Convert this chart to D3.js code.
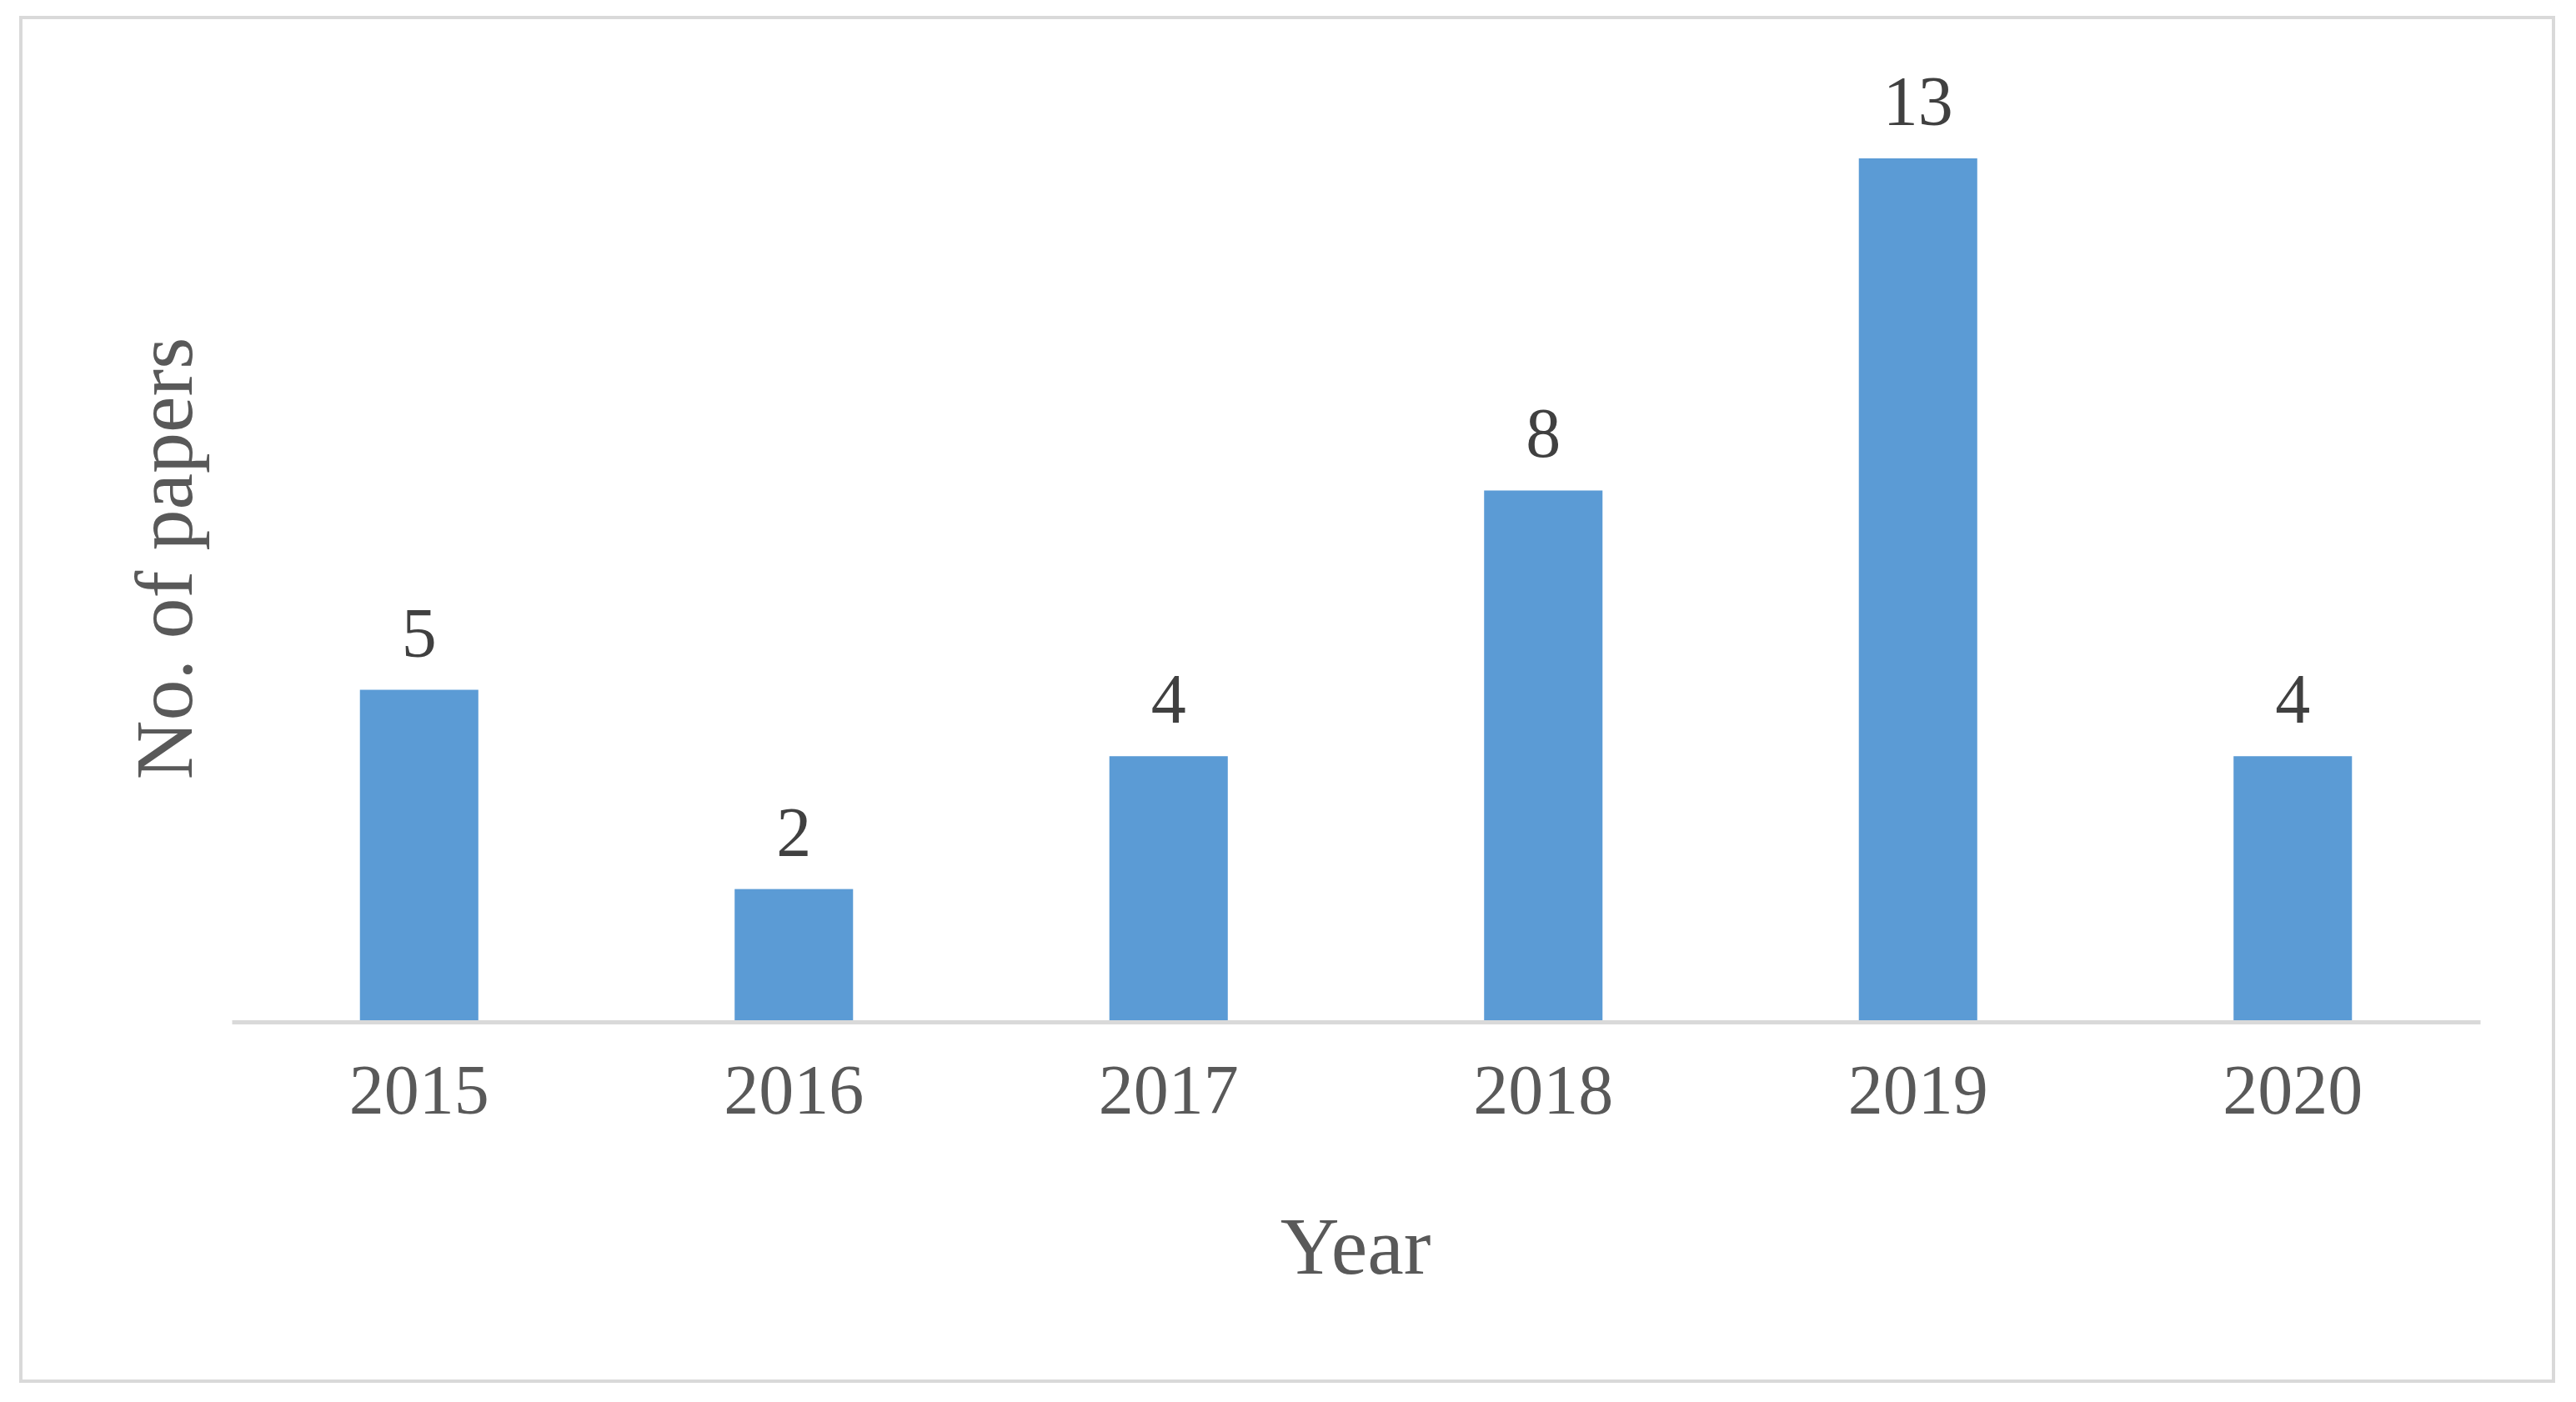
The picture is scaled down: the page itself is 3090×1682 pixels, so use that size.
<!DOCTYPE html>
<html><head><meta charset="utf-8">
<script src="https://cdn.jsdelivr.net/npm/d3@7"></script>
<style>body{margin:0;background:#fff}</style></head>
<body><svg id="c" width="3090" height="1682"></svg>
<script>
const years = ["2015","2016","2017","2018","2019","2020"];
const papers = [5,2,4,8,13,4];
const svg = d3.select("#c");
const font = "'Liberation Serif','DejaVu Serif',serif";
svg.append("rect").attr("x",25).attr("y",21).attr("width",3038).attr("height",1636)
  .attr("fill","#fff").attr("stroke","#d9d9d9").attr("stroke-width",4);
const x = d3.scaleBand().domain(years).range([278,2975]);
const y = d3.scaleLinear().domain([0,13]).range([1226,190]);
const bw = x.bandwidth()*0.316;
svg.selectAll("rect.bar").data(years).join("rect").attr("class","bar")
  .attr("x",d=>x(d)+x.bandwidth()/2-bw/2).attr("width",bw)
  .attr("y",(d,i)=>y(papers[i])).attr("height",(d,i)=>y(0)-y(papers[i]))
  .attr("fill","#5b9bd5");
svg.selectAll("text.v").data(years).join("text").attr("class","v")
  .attr("x",d=>x(d)+x.bandwidth()/2).attr("y",(d,i)=>y(papers[i])-40)
  .attr("text-anchor","middle").attr("font-family",font).attr("font-size",84)
  .attr("fill","#404040").text((d,i)=>papers[i]);
const ax = svg.append("g").attr("transform","translate(0,1226)")
  .call(d3.axisBottom(x).tickSize(0).tickPadding(50));
ax.select(".domain").attr("stroke","#d9d9d9").attr("stroke-width",5);
ax.selectAll("text").attr("font-family",font).attr("font-size",84).attr("fill","#595959");
svg.append("text").attr("x",1626).attr("y",1528).attr("text-anchor","middle")
  .attr("font-family",font).attr("font-size",98).attr("fill","#595959").text("Year");
svg.append("text").attr("transform","translate(230,670) rotate(-90)").attr("text-anchor","middle")
  .attr("font-family",font).attr("font-size",98).attr("fill","#595959").text("No. of papers");
</script></body></html>
